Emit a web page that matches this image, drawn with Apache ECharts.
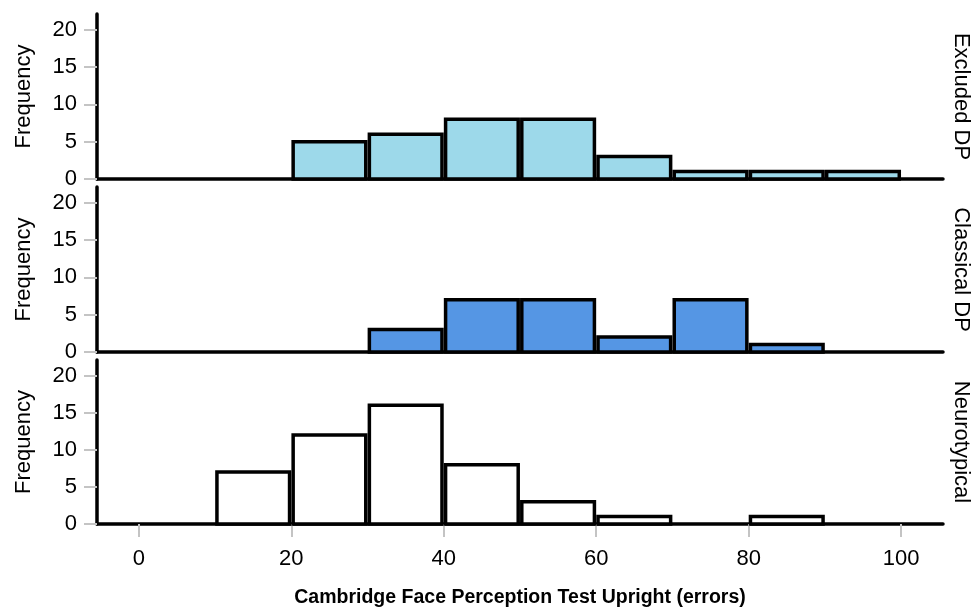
<!DOCTYPE html>
<html>
<head>
<meta charset="utf-8">
<script src="https://cdn.jsdelivr.net/npm/echarts@6/dist/echarts.min.js"></script>
<style>html,body{margin:0;padding:0;background:#fff}#c{width:973px;height:607px}</style>
</head>
<body>
<div id="c"></div>
<script>
// Bin edges (errors) and frequencies per group
const binStarts = [0, 10, 20, 30, 40, 50, 60, 70, 80, 90];
const binWidth = 10;
const excludedDP   = [0, 0, 5, 6, 8, 8, 3, 1, 1, 1];
const classicalDP  = [0, 0, 0, 3, 7, 7, 2, 7, 1, 0];
const neurotypical = [0, 7, 12, 16, 8, 3, 1, 0, 1, 0];
const groupNames = ['Excluded DP', 'Classical DP', 'Neurotypical'];
const groupColors = ['#9dd9ea', '#5596e4', '#ffffff'];
const xTickValues = [0, 20, 40, 60, 80, 100];
const yTickValues = [0, 5, 10, 15, 20];
const xTitle = 'Cambridge Face Perception Test Upright (errors)';
const yTitle = 'Frequency';

const groups = [excludedDP, classicalDP, neurotypical];
const FONT = 'Liberation Sans, Arial, sans-serif';

const gridTops = [14, 187, 360];
const gridHeights = [165, 165, 164];

const chart = echarts.init(document.getElementById('c'));

function makeRender(color) {
  return function (params, api) {
    const x0 = api.value(0), x1 = api.value(1), v = api.value(2);
    if (!v) return null;
    const pTop = api.coord([x0, v]);
    const pBot = api.coord([x1, 0]);
    return {
      type: 'rect',
      shape: { x: pTop[0] + 1.8, y: pTop[1], width: pBot[0] - pTop[0] - 3.6, height: pBot[1] - pTop[1] },
      style: { fill: color, stroke: '#000', lineWidth: 3.5 }
    };
  };
}

const grids = [], xAxes = [], yAxes = [], series = [], graphics = [];
groups.forEach((vals, i) => {
  grids.push({ left: 97, right: 30, top: gridTops[i], height: gridHeights[i], containLabel: false, outerBoundsMode: 'none' });
  const isBottom = i === groups.length - 1;
  xAxes.push({
    type: 'value', gridIndex: i, min: -5.5, max: 105.5,
    axisLine: { show: true, onZero: false, lineStyle: { color: '#000', width: 3.5 } },
    axisTick: isBottom ? { show: true, customValues: xTickValues, length: 13, lineStyle: { color: '#c4c4c4', width: 2 } } : { show: false },
    axisLabel: isBottom ? { show: true, customValues: xTickValues, fontFamily: FONT, fontSize: 22, color: '#000', margin: 24 } : { show: false },
    splitLine: { show: false },
    name: isBottom ? xTitle : '',
    nameLocation: 'middle', nameGap: 64,
    nameTextStyle: { fontFamily: FONT, fontSize: 19.5, fontWeight: 'bold', color: '#000' }
  });
  yAxes.push({
    type: 'value', gridIndex: i, min: 0, max: 22.1,
    axisLine: { show: true, onZero: false, lineStyle: { color: '#000', width: 3.5 } },
    axisTick: { show: true, customValues: yTickValues, length: 13, lineStyle: { color: '#c4c4c4', width: 2 } },
    axisLabel: { customValues: yTickValues, fontFamily: FONT, fontSize: 22, color: '#000', margin: 20 },
    splitLine: { show: false },
    name: yTitle, nameLocation: 'middle', nameGap: 62,
    nameTextStyle: { fontFamily: FONT, fontSize: 22, color: '#000' }
  });
  series.push({
    type: 'custom', xAxisIndex: i, yAxisIndex: i,
    renderItem: makeRender(groupColors[i]),
    encode: { x: [0, 1], y: 2 },
    data: binStarts.map((b, k) => [b, b + binWidth, vals[k]]),
    silent: true, animation: false
  });
  graphics.push({
    type: 'text', x: 961, y: gridTops[i] + gridHeights[i] / 2, rotation: -Math.PI / 2,
    style: { text: groupNames[i], fontFamily: FONT, fontSize: 22, fill: '#000', textAlign: 'center', textVerticalAlign: 'middle' }
  });
});

chart.setOption({
  backgroundColor: '#fff',
  animation: false,
  grid: grids, xAxis: xAxes, yAxis: yAxes, series: series, graphic: graphics
});
</script>
</body>
</html>
